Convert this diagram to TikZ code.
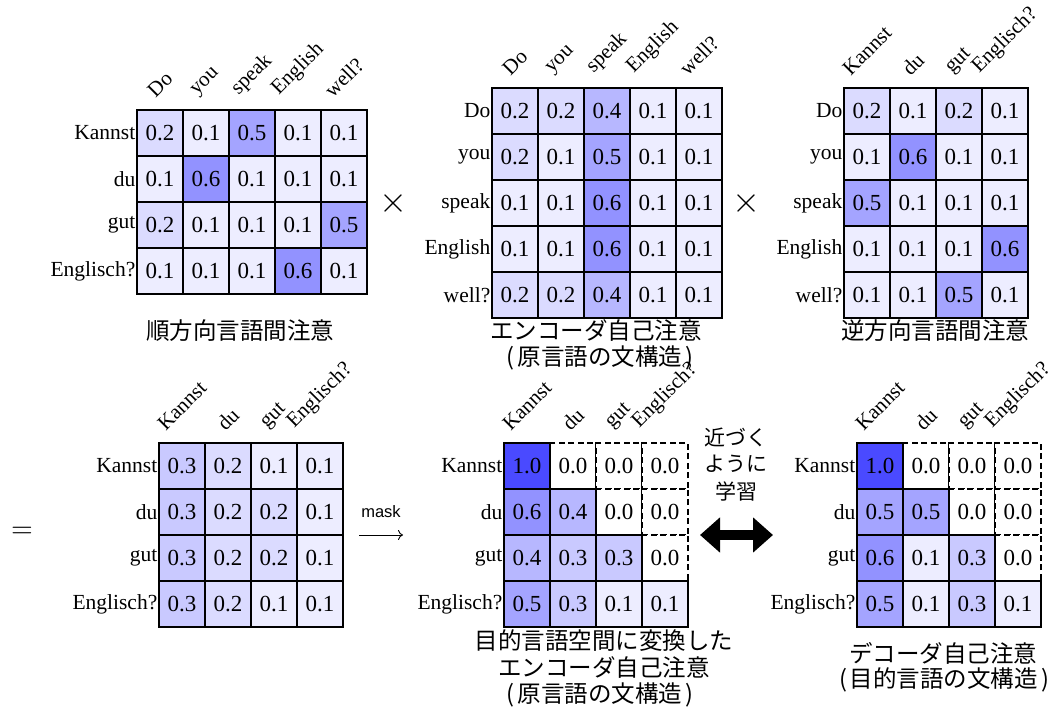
\documentclass[tikz,border=0pt]{standalone}
\usepackage{fontspec}
\setmainfont{Liberation Serif}
\newfontfamily\jpfont{Noto Sans CJK JP}
\newfontfamily\labsans{Liberation Sans}
\usepackage{graphicx}
\usetikzlibrary{arrows.meta}

\newcommand\jpparen[1]{(\hspace{3pt}#1\hspace{3pt})}

\tikzset{
  cellbox/.style={draw=black, line width=2.6pt, minimum size=46pt, inner sep=0pt,
    font=\fontsize{23}{26}\selectfont},
  maskbox/.style={draw=black, dash pattern=on 6pt off 3.5pt, line width=1.9pt, fill=white,
    minimum size=46pt, inner sep=0pt, font=\fontsize{23}{26}\selectfont},
  rowlbl/.style={anchor=east, inner sep=1.5pt, font=\fontsize{21.5}{24}\selectfont},
  collbl/.style={anchor=south, inner sep=0pt, font=\fontsize{21}{24}\selectfont},
  captext/.style={inner sep=0pt, font=\jpfont\fontsize{23.5}{27}\selectfont},
  symb/.style={inner sep=0pt},
  thinarrow/.style={line width=0.9pt, -{To[length=5pt,width=10pt]}},
  bigarrow/.style={line width=10pt, {Triangle[length=20pt,width=34pt]}-{Triangle[length=20pt,width=34pt]}},
}

% #1 name, #2 left, #3 top, #4 row labels, #5 column labels, #6 rows of values, #7 mask flag
\newcommand\attmat[7]{%
  \foreach \lab [count=\i] in {#4} {\node[rowlbl] (#1-r\i) at ({#2},{#3+46*\i-23}) {\lab};}
  \foreach \lab [count=\j] in {#5} {\node[collbl] (#1-c\j) at ({#2+46*\j-23},{#3-11}) {\rotatebox{45}{\lab}};}
  \foreach \row [count=\i] in {#6} {\foreach \v [count=\j] in \row {%
      \pgfmathtruncatemacro\msk{(#7==1)&&(\j>\i)}%
      \ifnum\msk=1 \node[maskbox] (#1-\i-\j) at ({#2+46*\j-23},{#3+46*\i-23}) {\v};\fi}}
  \foreach \row [count=\i] in {#6} {\foreach \v [count=\j] in \row {%
      \pgfmathtruncatemacro\msk{(#7==1)&&(\j>\i)}%
      \pgfmathsetmacro\pct{\v*71}%
      \ifnum\msk=0 \node[cellbox, fill=blue!\pct!white] (#1-\i-\j) at ({#2+46*\j-23},{#3+46*\i-23}) {\v};\fi}}
}

\begin{document}
\begin{tikzpicture}[x=1pt, y=-1pt]
\useasboundingbox (0,0) rectangle (1050,712);

% top row
\attmat{A}{137}{110}{Kannst,du,gut,Englisch?}{Do,you,speak,English,well?}
  {{0.2,0.1,0.5,0.1,0.1},{0.1,0.6,0.1,0.1,0.1},{0.2,0.1,0.1,0.1,0.5},{0.1,0.1,0.1,0.6,0.1}}{0}
\attmat{B}{492}{88}{Do,you,speak,English,well?}{Do,you,speak,English,well?}
  {{0.2,0.2,0.4,0.1,0.1},{0.2,0.1,0.5,0.1,0.1},{0.1,0.1,0.6,0.1,0.1},{0.1,0.1,0.6,0.1,0.1},{0.2,0.2,0.4,0.1,0.1}}{0}
\attmat{C}{844}{88}{Do,you,speak,English,well?}{Kannst,du,gut,Englisch?}
  {{0.2,0.1,0.2,0.1},{0.1,0.6,0.1,0.1},{0.5,0.1,0.1,0.1},{0.1,0.1,0.1,0.6},{0.1,0.1,0.5,0.1}}{0}

% bottom row
\attmat{D}{159}{443}{Kannst,du,gut,Englisch?}{Kannst,du,gut,Englisch?}
  {{0.3,0.2,0.1,0.1},{0.3,0.2,0.2,0.1},{0.3,0.2,0.2,0.1},{0.3,0.2,0.1,0.1}}{0}
\attmat{E}{504}{443}{Kannst,du,gut,Englisch?}{Kannst,du,gut,Englisch?}
  {{1.0,0.0,0.0,0.0},{0.6,0.4,0.0,0.0},{0.4,0.3,0.3,0.0},{0.5,0.3,0.1,0.1}}{1}
\attmat{F}{857}{443}{Kannst,du,gut,Englisch?}{Kannst,du,gut,Englisch?}
  {{1.0,0.0,0.0,0.0},{0.5,0.5,0.0,0.0},{0.6,0.1,0.3,0.0},{0.5,0.1,0.3,0.1}}{1}

% operators
\node[symb] (times1) at (393,203) {\scalebox{3.6}{$\times$}};
\node[symb] (times2) at (746,203) {\scalebox{3.6}{$\times$}};
\node[symb] (equals) at (22,532) {\scalebox{2.8}{$=$}};
\node[symb, font=\labsans\fontsize{16.5}{19}\selectfont] (masklbl) at (381,512) {mask};
\coordinate (maskA) at (359,535);
\coordinate (maskB) at (403,535);
\draw[thinarrow] (maskA) -- (maskB);

% captions
\node[captext] (capA) at (240,331) {順方向言語間注意};
\node[captext] (capB1) at (596,331) {エンコーダ自己注意};
\node[captext] (capB2) at (600,358) {\jpparen{原言語の文構造}};
\node[captext] (capC) at (935,331) {逆方向言語間注意};
\node[captext] (capE1) at (604,641) {目的言語空間に変換した};
\node[captext] (capE2) at (604,668) {エンコーダ自己注意};
\node[captext] (capE3) at (600,695) {\jpparen{原言語の文構造}};
\node[captext] (capF1) at (943,653) {デコーダ自己注意};
\node[captext] (capF2) at (944,680) {\jpparen{目的言語の文構造}};

% learning label and double arrow
\node[captext, font=\jpfont\fontsize{21}{24}\selectfont] (learn1) at (736,437) {近づく};
\node[captext, font=\jpfont\fontsize{21}{24}\selectfont] (learn2) at (736,464) {ように};
\node[captext, font=\jpfont\fontsize{21}{24}\selectfont] (learn3) at (736,491) {学習};
\coordinate (arrL) at (700,535);
\coordinate (arrR) at (773,535);
\draw[bigarrow] (arrL) -- (arrR);
\end{tikzpicture}
\end{document}
